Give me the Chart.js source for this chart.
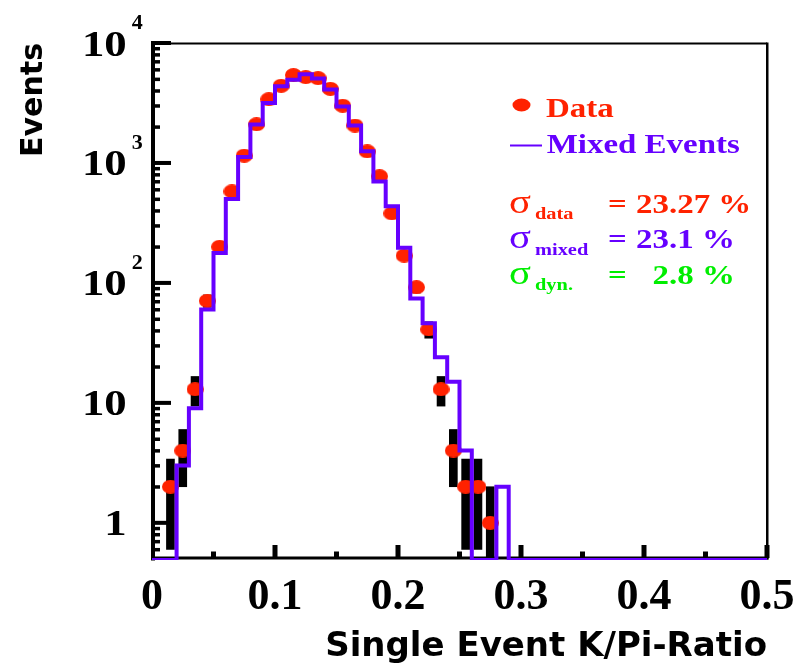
<!DOCTYPE html>
<html>
<head>
<meta charset="utf-8">
<title>Single Event K/Pi-Ratio</title>
<script src="https://cdn.jsdelivr.net/npm/chart.js@4.4.0/dist/chart.umd.min.js"></script>
<style>
    html, body { margin: 0; padding: 0; background: #fff; }
    #wrap { width: 799px; height: 665px; }
</style>
</head>
<body>
<div id="wrap"><canvas id="chart" width="799" height="665"></canvas></div>
<script>
// histogram bins (width 0.01) of the single event K/pi ratio
const binEdges = [
    0.00, 0.01, 0.02, 0.03, 0.04, 0.05, 0.06, 0.07, 0.08, 0.09,
    0.10, 0.11, 0.12, 0.13, 0.14, 0.15, 0.16, 0.17, 0.18, 0.19,
    0.20, 0.21, 0.22, 0.23, 0.24, 0.25, 0.26, 0.27, 0.28, 0.29,
    0.30, 0.31, 0.32, 0.33, 0.34, 0.35, 0.36, 0.37, 0.38, 0.39,
    0.40, 0.41, 0.42, 0.43, 0.44, 0.45, 0.46, 0.47, 0.48, 0.49, 0.50
];
const binCenters = [
    0.005, 0.015, 0.025, 0.035, 0.045, 0.055, 0.065, 0.075, 0.085, 0.095,
    0.105, 0.115, 0.125, 0.135, 0.145, 0.155, 0.165, 0.175, 0.185, 0.195,
    0.205, 0.215, 0.225, 0.235, 0.245, 0.255, 0.265, 0.275, 0.285, 0.295,
    0.305, 0.315, 0.325, 0.335, 0.345, 0.355, 0.365, 0.375, 0.385, 0.395,
    0.405, 0.415, 0.425, 0.435, 0.445, 0.455, 0.465, 0.475, 0.485, 0.495
];

// Data (red points) and their error bars
const dataCounts = [
    0, 2, 4, 13, 71, 200, 580, 1150, 2100, 3400,
    4400, 5400, 5200, 5100, 4150, 3000, 2050, 1250, 775, 380,
    169, 92, 41, 13, 4, 2, 2, 1, 0, 0,
    0, 0, 0, 0, 0, 0, 0, 0, 0, 0,
    0, 0, 0, 0, 0, 0, 0, 0, 0, 0
];
const dataErr = [
    0, 1.4, 2, 3.6, 8.4, 14, 24, 34, 46, 58,
    66, 73, 72, 71, 64, 55, 45, 35, 28, 19.5,
    13, 9.6, 6.4, 3.6, 2, 1.4, 1.4, 1, 0, 0,
    0, 0, 0, 0, 0, 0, 0, 0, 0, 0,
    0, 0, 0, 0, 0, 0, 0, 0, 0, 0
];

// Mixed events (purple histogram)
const mixedCounts = [
    0, 0, 3, 9, 60, 178, 500, 1120, 2090, 3160,
    4350, 4950, 5500, 5050, 4100, 2950, 2050, 1250, 700, 435,
    196, 74, 46, 24, 15, 4, 0, 0, 2, 0,
    0, 0, 0, 0, 0, 0, 0, 0, 0, 0,
    0, 0, 0, 0, 0, 0, 0, 0, 0, 0
];

// axes
const Y_MIN = 0.49;
const Y_MAX = 10000;
const yDecades = [1, 10, 100, 1000, 10000];
const yDecadeBase = ["1", "10", "10", "10", "10"];
const yDecadeExp = ["", "", "2", "3", "4"];
const yMinorTicks = [
    0.6, 0.7, 0.8, 0.9,
    2, 3, 4, 5, 6, 7, 8, 9,
    20, 30, 40, 50, 60, 70, 80, 90,
    200, 300, 400, 500, 600, 700, 800, 900,
    2000, 3000, 4000, 5000, 6000, 7000, 8000, 9000
];
const xTickLabels = ["0", "0.1", "0.2", "0.3", "0.4", "0.5"];
const xMajorTicks = [0.1, 0.2, 0.3, 0.4, 0.5];
const xMinorTicks = [0.05, 0.15, 0.25, 0.35, 0.45];

// legend and widths
const legendLabels = ["Data", "Mixed Events"];
const sigmaSubs = ["data", "mixed", "dyn."];
const sigmaValues = ["23.27 %", "23.1 %", "  2.8 %"];

const RED = "#ff2200";
const PURPLE = "#6600ff";
const GREEN = "#00ee00";
const SERIF = "'Liberation Serif', 'Times New Roman', serif";
const SANS = "'DejaVu Sans', Verdana, sans-serif";

// ===============================
// helpers
// ===============================
function ellipseMarker(w, h, color) {
    const c = document.createElement("canvas");
    c.width = w;
    c.height = h;
    const g = c.getContext("2d");
    g.fillStyle = color;
    g.beginPath();
    g.ellipse(w / 2, h / 2, w / 2, h / 2, 0, 0, Math.PI * 2);
    g.fill();
    return c;
}

// ROOT's fonts come out wide, so stretch the text a bit
function wideText(ctx, text, x, y, font, color, sx, align) {
    ctx.save();
    ctx.font = font;
    ctx.fillStyle = color;
    ctx.textBaseline = "alphabetic";
    ctx.textAlign = "left";
    const w = ctx.measureText(text).width * sx;
    const left = align === "right" ? x - w : x;
    ctx.translate(left, y);
    ctx.scale(sx, 1);
    ctx.fillText(text, 0, 0);
    ctx.restore();
    return w;
}

// ===============================
// frame, inner ticks, y labels, legend
// ===============================
const rootFrame = {
    id: "rootFrame",
    beforeDatasetsDraw(chart) {
        const { ctx, chartArea: a, scales: { x, y } } = chart;
        ctx.save();
        ctx.fillStyle = "#000";

        // thin top / right frame
        ctx.fillRect(a.left, a.top - 0.5, a.right - a.left, 2);
        ctx.fillRect(a.right - 1, a.top - 0.5, 2.5, a.bottom - a.top);

        // thick axes
        ctx.fillRect(a.left - 1, a.top - 0.5, 4, a.bottom - a.top + 1);
        ctx.fillRect(a.left - 1, a.bottom - 3.5, a.right - a.left + 2.5, 3);

        // y ticks pointing inwards
        yDecades.forEach(v => {
            const py = y.getPixelForValue(v);
            ctx.fillRect(a.left - 1, py - 2, 20, 4);
        });
        yMinorTicks.forEach(v => {
            const py = y.getPixelForValue(v);
            ctx.fillRect(a.left - 1, py - 1.5, 9, 3.5);
        });

        // x ticks pointing upwards
        xMajorTicks.forEach(v => {
            const px = x.getPixelForValue(v);
            ctx.fillRect(px - 2.5, a.bottom - 15, 5, 13);
        });
        xMinorTicks.forEach(v => {
            const px = x.getPixelForValue(v);
            ctx.fillRect(px - 2.5, a.bottom - 8.5, 5, 6.5);
        });
        ctx.restore();
    },
    afterDraw(chart) {
        const { ctx, scales: { y } } = chart;
        const baseRight = 126.7;

        // y labels: 1, 10, 10^2, 10^3, 10^4
        yDecades.forEach((v, i) => {
            const py = y.getPixelForValue(v);
            wideText(ctx, yDecadeBase[i], baseRight, py + 12.5, "bold 35px " + SERIF, "#000", 1.28, "right");
            if (yDecadeExp[i]) {
                wideText(ctx, yDecadeExp[i], baseRight + 5, py - 14, "bold 22px " + SERIF, "#000", 1.0);
            }
        });

        // legend
        const sx = 1.22;
        const big = "bold 27px " + SERIF;
        ctx.save();
        ctx.fillStyle = RED;
        ctx.beginPath();
        ctx.ellipse(521.5, 105, 9, 6.5, 0, 0, Math.PI * 2);
        ctx.fill();
        ctx.strokeStyle = PURPLE;
        ctx.lineWidth = 2;
        ctx.beginPath();
        ctx.moveTo(510, 145.5);
        ctx.lineTo(542, 145.5);
        ctx.stroke();
        ctx.restore();
        wideText(ctx, legendLabels[0], 546, 116.7, big, RED, sx);
        wideText(ctx, legendLabels[1], 546.7, 153.3, big, PURPLE, sx);

        // widths of the K/pi ratio distributions
        const colors = [RED, PURPLE, GREEN];
        const rowBase = [212.6, 247.8, 283.5];
        sigmaSubs.forEach((sub, i) => {
            const b = rowBase[i];
            wideText(ctx, "\u03c3", 509, b, "34px " + SERIF, colors[i], 1.2);
            wideText(ctx, sub, 535, b + 6.7, "bold 17px " + SERIF, colors[i], 1.2);
            wideText(ctx, "=", 608, b, big, colors[i], sx);
            wideText(ctx, sigmaValues[i], 636, b, big, colors[i], sx);
        });
    }
};

// ===============================
// chart
// ===============================
const dotMarker = ellipseMarker(17, 14, RED);

const errorBars = binCenters
    .map((x, i) => dataCounts[i] > 0
        ? { x: x, y: [Math.max(dataCounts[i] - dataErr[i], Y_MIN), dataCounts[i] + dataErr[i]] }
        : null)
    .filter(p => p !== null);

const dataPoints = binCenters
    .map((x, i) => dataCounts[i] > 0 ? { x: x, y: dataCounts[i] } : null)
    .filter(p => p !== null);

// empty bins sit on the floor of the log axis, like ROOT draws them
const mixedSteps = binEdges.map((x, i) => {
    const c = mixedCounts[Math.min(i, mixedCounts.length - 1)];
    return { x: x, y: c > 0 ? c : Y_MIN };
});

new Chart(document.getElementById("chart"), {
    type: "line",
    data: {
        datasets: [
            {
                type: "bar",
                label: "Data errors",
                data: errorBars,
                backgroundColor: "#000",
                borderWidth: 0,
                barThickness: 8,
                order: 3
            },
            {
                label: legendLabels[0],
                data: dataPoints,
                showLine: false,
                pointStyle: dotMarker,
                pointRadius: 7,
                order: 2
            },
            {
                label: legendLabels[1],
                data: mixedSteps,
                stepped: "before",
                borderColor: PURPLE,
                borderWidth: 4,
                borderJoinStyle: "miter",
                pointRadius: 0,
                fill: false,
                order: 1
            }
        ]
    },
    options: {
        responsive: false,
        animation: false,
        devicePixelRatio: 1,
        layout: { padding: { left: 0, top: 43, right: 32, bottom: 0 } },
        plugins: {
            legend: { display: false },
            tooltip: { enabled: false }
        },
        scales: {
            x: {
                type: "linear",
                min: 0,
                max: 0.5,
                offset: false,
                grid: { display: false, drawTicks: false },
                border: { display: false },
                ticks: {
                    stepSize: 0.1,
                    autoSkip: false,
                    maxRotation: 0,
                    padding: 11,
                    color: "#000",
                    font: { family: SERIF, weight: "bold", size: 44 },
                    callback: (v, i) => xTickLabels[i]
                },
                title: {
                    display: true,
                    text: "Single Event K/Pi-Ratio",
                    align: "end",
                    color: "#000",
                    font: { family: SANS, weight: "bold", size: 34 },
                    padding: { top: 0, bottom: -3 }
                },
                afterFit: s => {
                    s.height = 105;
                    s.paddingLeft = 0;
                    s.paddingRight = 0;
                }
            },
            y: {
                type: "logarithmic",
                min: Y_MIN,
                max: Y_MAX,
                grid: { display: false, drawTicks: false },
                border: { display: false },
                ticks: { display: false },
                title: {
                    display: true,
                    text: "Events",
                    align: "end",
                    color: "#000",
                    font: { family: SANS, weight: "bold", size: 30 },
                    padding: { top: 16, bottom: 0 }
                },
                afterFit: s => { s.width = 152; }
            }
        }
    },
    plugins: [rootFrame]
});
</script>
</body>
</html>
